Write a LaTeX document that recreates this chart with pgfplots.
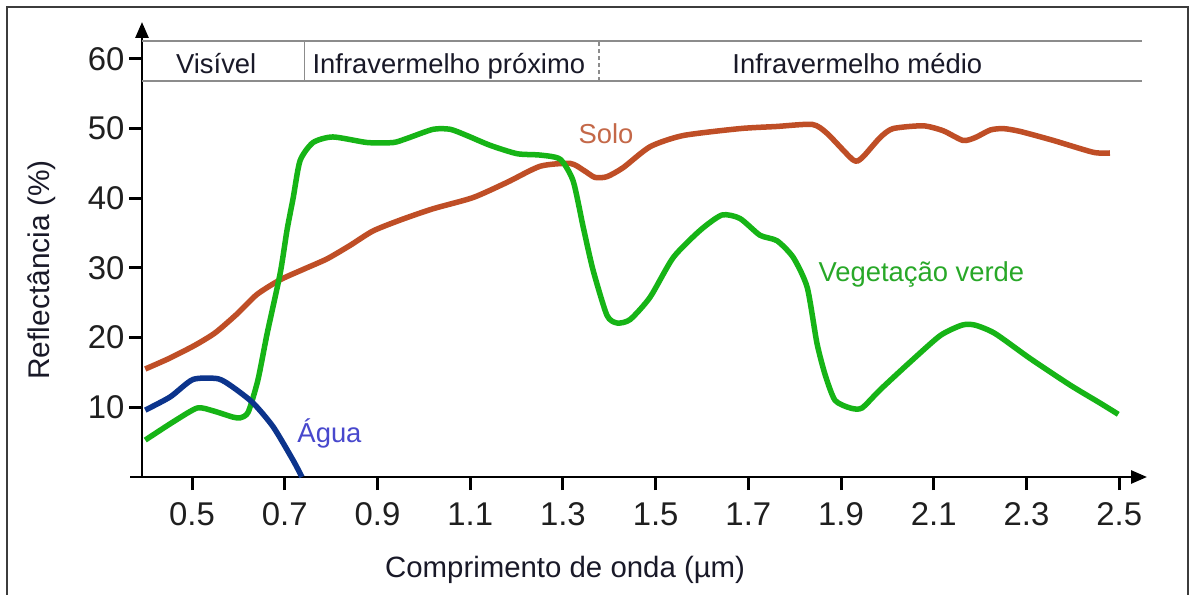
\documentclass[border=0pt]{standalone}
\usepackage{pgfplots}
\pgfplotsset{compat=1.18}
\usepackage{fontspec}
\setmainfont{Liberation Sans}
\usetikzlibrary{arrows.meta}
\definecolor{solo}{RGB}{191,78,38}
\definecolor{sololab}{RGB}{196,104,72}
\definecolor{veg}{RGB}{22,180,22}
\definecolor{veglab}{RGB}{40,168,40}
\definecolor{agua}{RGB}{12,52,140}
\definecolor{agualab}{RGB}{72,72,205}
\definecolor{framec}{RGB}{60,60,60}
\definecolor{bandc}{RGB}{140,140,140}
\definecolor{txt}{RGB}{25,25,40}
\begin{document}
\begin{tikzpicture}
\path[use as bounding box] (0,0) rectangle (1192bp,595bp);
\fill[white] (0,0) rectangle (1192bp,595bp);
\draw[color=framec, line width=1.5bp] (7bp,-2bp) -- (7bp,588bp) -- (1188bp,588bp) -- (1188bp,-2bp);
\begin{axis}[
  at={(142bp,118bp)}, anchor=south west,
  scale only axis, width=1005bp, height=455bp,
  xmin=0.392, xmax=2.56, ymin=0, ymax=65.3,
  clip=false,
  axis lines=left,
  axis line style={line width=2.8bp, black},
  x axis line style={-{Triangle[length=16bp,width=13bp]}},
  y axis line style={-{Triangle[length=16bp,width=13bp]}},
  xtick={0.5,0.7,0.9,1.1,1.3,1.5,1.7,1.9,2.1,2.3,2.5},
  xticklabels={0.5,0.7,0.9,1.1,1.3,1.5,1.7,1.9,2.1,2.3,2.5},
  ytick={10,20,30,40,50,60},
  yticklabels={10,20,30,40,50,60},
  xtick pos=bottom, ytick pos=left,
  tick align=outside,
  major tick length=13bp,
  tick style={line width=3bp, black},
  /pgf/number format/assume math mode=true,
  ticklabel style={font=\fontsize{33}{38}\selectfont, text=black!88},
  xticklabel style={yshift=-9bp},
  yticklabel style={xshift=-1bp},
  xlabel={Comprimento de onda (µm)},
  ylabel={Reflectância (\%)},
  xlabel style={at={(axis description cs:0.421,-0.2198)}, anchor=base, font=\fontsize{29.5}{34}\selectfont, text=txt},
  ylabel style={at={(axis description cs:-0.0995,0.455)}, anchor=center, font=\fontsize{30}{34}\selectfont, text=txt},
]
% spectral band header
\draw[bandc, line width=1.5bp] (axis cs:0.392,62.55) -- (axis cs:2.55,62.55);
\draw[bandc, line width=1.5bp] (axis cs:0.392,56.8) -- (axis cs:2.55,56.8);
\draw[bandc, line width=1.5bp] (axis cs:0.742,56.8) -- (axis cs:0.742,62.55);
\draw[bandc, line width=1.5bp, dash pattern=on 4bp off 3bp] (axis cs:1.378,56.8) -- (axis cs:1.378,62.55);
\node[anchor=base, font=\fontsize{27.5}{32}\selectfont, text=txt] at (axis cs:0.552,57.96) {Visível};
\node[anchor=base, font=\fontsize{27.5}{32}\selectfont, text=txt] at (axis cs:1.054,57.96) {Infravermelho próximo};
\node[anchor=base, font=\fontsize{27.5}{32}\selectfont, text=txt] at (axis cs:1.935,57.96) {Infravermelho médio};
% x axis extension to the left
\draw[line width=2.8bp, black] (axis cs:0.392,0) -- (axis cs:0.366,0);

\addplot[solo, line width=5.5bp, smooth, tension=0.4] coordinates {
(0.399,15.5) (0.45,17.0) (0.506,18.9) (0.55,20.7) (0.597,23.4) (0.640,26.2)
(0.690,28.3) (0.740,29.8) (0.791,31.3) (0.840,33.2) (0.890,35.3) (0.950,36.9)
(1.020,38.5) (1.106,40.1) (1.180,42.3) (1.251,44.6) (1.316,45.0) (1.345,44.0)
(1.369,43.0) (1.395,43.1) (1.430,44.4) (1.488,47.4) (1.559,49.0) (1.682,50.0)
(1.760,50.3) (1.838,50.6) (1.870,49.3) (1.926,45.5) (1.945,45.8) (1.984,48.7)
(2.012,50.0) (2.077,50.4) (2.120,49.7) (2.163,48.3) (2.189,48.7) (2.222,49.8)
(2.250,50.0) (2.286,49.6) (2.358,48.3) (2.444,46.6) (2.480,46.5)
};
\addplot[veg, line width=5.5bp, smooth, tension=0.4] coordinates {
(0.399,5.3) (0.459,7.9) (0.511,9.9) (0.545,9.5) (0.588,8.6) (0.604,8.5)
(0.621,9.3) (0.642,13.9) (0.662,20.6) (0.690,29.2) (0.705,35.5) (0.718,40.0)
(0.733,45.4) (0.761,48.0) (0.804,48.8) (0.878,48.0) (0.934,48.0) (0.964,48.6)
(1.020,49.9) (1.057,49.9) (1.093,49.0) (1.143,47.6) (1.201,46.4) (1.251,46.2)
(1.294,45.6) (1.322,42.5) (1.344,35.8) (1.365,29.7) (1.395,23.2) (1.417,22.1)
(1.445,22.6) (1.488,25.8) (1.538,31.5) (1.596,35.4) (1.643,37.6) (1.682,37.1)
(1.725,34.7) (1.762,33.9) (1.797,31.5) (1.827,27.2) (1.848,19.2) (1.866,14.6)
(1.887,11.0) (1.920,9.9) (1.945,9.9) (1.984,12.5) (2.049,16.5) (2.114,20.3)
(2.161,21.8) (2.189,21.8) (2.232,20.6) (2.308,17.0) (2.394,13.2) (2.459,10.6)
(2.498,9.0)
};
\addplot[agua, line width=5.5bp, smooth, tension=0.4] coordinates {
(0.399,9.6) (0.453,11.5) (0.502,14.0) (0.556,14.1) (0.588,12.9) (0.632,10.6)
(0.675,7.2) (0.718,2.4) (0.737,0.0)
};
\node[anchor=base, font=\fontsize{27.5}{32}\selectfont, text=sololab] at (axis cs:1.393,47.9) {Solo};
\node[anchor=base west, inner sep=0pt, font=\fontsize{27.5}{32}\selectfont, text=veglab] at (axis cs:1.851,28.1) {Vegetação verde};
\node[anchor=base west, inner sep=0pt, font=\fontsize{27.5}{32}\selectfont, text=agualab] at (axis cs:0.727,5.0) {Água};
\end{axis}
\end{tikzpicture}
\end{document}
